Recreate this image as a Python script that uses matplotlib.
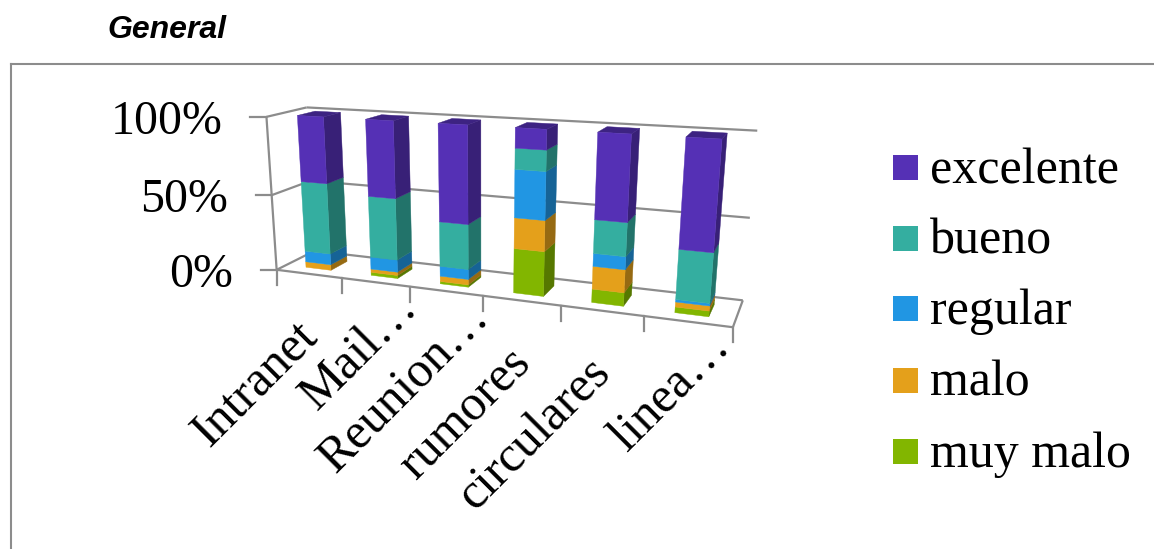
"""Stacked 3D column chart drawn on a plain axes with a fitted perspective projection."""

import numpy as np
import matplotlib
matplotlib.use("Agg")
import matplotlib.pyplot as plt
from matplotlib.patches import Polygon, Rectangle

# Chart data (percent of answers per channel)
categories = ["Intranet", "Mail…", "Reunion…", "rumores", "circulares", "linea…"]
series_names = ["muy malo", "malo", "regular", "bueno", "excelente"]
muy_malo = [0, 2.0, 1.5, 27.8, 8.2, 3.4]
malo = [3.8, 2.2, 3.5, 18.9, 13.9, 3.0]
regular = [7.3, 8.0, 6.4, 29.0, 7.8, 1.5]
bueno = [46.5, 39.6, 28.4, 12.4, 20.0, 29.4]
excelente = [42.4, 48.2, 60.2, 11.9, 50.1, 62.7]
percent_ticks = [0, 50, 100]

colors = ["#82B600", "#E4A01B", "#2196E3", "#34AEA0", "#5530B5"]
GRAY = "#8c8c8c"

# Box corners on the picture: (category, depth, fraction) -> pixel
anchors = [
    ((0, 0, 0), (278, 269)),
    ((6, 0, 0), (733, 328)),
    ((3, 0, 0), (483, 296)),
    ((0, 1, 0), (313, 252)),
    ((6, 1, 0), (743, 299)),
    ((0, 0, 1), (265, 117)),
    ((0, 1, 1), (308, 107)),
    ((6, 1, 1), (757, 131)),
    ((0, 0, 0.5), (272, 195)),
    ((6, 1, 0.5), (750, 218)),
]


def fit_projection(points):
    """Least squares fit of a 3x4 perspective matrix."""
    rows = []
    for (x, y, z), (u, v) in points:
        rows.append([x, y, z, 1, 0, 0, 0, 0, -u * x, -u * y, -u * z, -u])
        rows.append([0, 0, 0, 0, x, y, z, 1, -v * x, -v * y, -v * z, -v])
    _, _, vt = np.linalg.svd(np.array(rows, dtype=float))
    return vt[-1].reshape(3, 4)


matrix = fit_projection(anchors)


def project(x, y, z):
    u, v, w = matrix @ np.array([x, y, z, 1.0])
    return u / w, v / w


def darker(color, factor):
    rgb = np.array(matplotlib.colors.to_rgb(color))
    return tuple(rgb * factor)


def face(ax, corners, color, zorder):
    pts = [project(*c) for c in corners]
    ax.add_patch(Polygon(pts, closed=True, facecolor=color, edgecolor=color, lw=0.3, zorder=zorder))


def edge(ax, a, b):
    pa, pb = project(*a), project(*b)
    ax.plot([pa[0], pb[0]], [pa[1], pb[1]], color=GRAY, lw=1.6, solid_capstyle="butt", zorder=1)


def draw_box(ax, cat, base, top, color, with_top, zorder):
    x0, x1 = cat + 0.31, cat + 0.70
    y0, y1 = 0.25, 0.70
    face(ax, [(x1, y0, base), (x1, y1, base), (x1, y1, top), (x1, y0, top)], darker(color, 0.66), zorder)
    if with_top:
        face(ax, [(x0, y0, top), (x1, y0, top), (x1, y1, top), (x0, y1, top)], darker(color, 0.72), zorder)
    face(ax, [(x0, y0, base), (x1, y0, base), (x1, y0, top), (x0, y0, top)], color, zorder + 0.1)


fig = plt.figure(figsize=(11.54, 5.49), dpi=100)
ax = fig.add_axes([0, 0, 1, 1])
ax.set_xlim(0, 1154)
ax.set_ylim(549, 0)
ax.axis("off")

# Outer frame, only top and left are visible
ax.plot([11, 1154], [64, 64], color=GRAY, lw=1.5)
ax.plot([11, 11], [64, 549], color=GRAY, lw=1.5)

ax.text(107, 38, "General", family="Liberation Sans", weight="bold", style="italic",
        fontsize=23, ha="left", va="baseline")

# Walls and floor
n = len(categories)
for pct in percent_ticks:
    z = pct / 100
    edge(ax, (0, 0, z), (0, 1, z))
    edge(ax, (0, 1, z), (n, 1, z))
    px, py = project(0, 0, z)
    ax.plot([px - 16, px], [py, py], color=GRAY, lw=1.6, zorder=1)
    ax.text(px - 44, py + 17, f"{pct}%", family="Liberation Serif", fontsize=34.5, ha="right", va="baseline")
edge(ax, (0, 0, 0), (0, 0, 1))
edge(ax, (0, 0, 0), (n, 0, 0))
edge(ax, (n, 0, 0), (n, 1, 0))
for i in range(n + 1):
    px, py = project(i, 0, 0)
    ax.plot([px, px], [py, py + 15], color=GRAY, lw=1.6, zorder=1)

# Bars, bottom segment first
stack = np.array([muy_malo, malo, regular, bueno, excelente])
totals = stack.sum(axis=0)
for i in range(n):
    base = 0.0
    for s in range(len(series_names)):
        top = base + stack[s, i] / totals[i]
        if stack[s, i] > 0:
            draw_box(ax, i, base, top, colors[s], s == len(series_names) - 1, 3 + i + s * 0.2)
        base = top

# Category labels, rotated; shortened labels end further to the upper right
for i, label in enumerate(categories):
    px, py = project(i + 0.5, 0, 0)
    dx, dy = (19, 2) if label.endswith("…") else (-15, 39)
    ax.text(px + dx, py + dy, label, family="Liberation Serif", fontsize=36, rotation=45,
            rotation_mode="anchor", ha="right", va="top")

# Legend, top entry is the last series
legend_baselines = [466, 395, 323, 253, 182]
for name, color, baseline in zip(series_names, colors, legend_baselines):
    ax.add_patch(Rectangle((893, baseline - 27), 25, 25, facecolor=color, edgecolor="none"))
    ax.text(930, baseline + 1, name, family="Liberation Serif", fontsize=36, ha="left", va="baseline")

fig.savefig("out.png", dpi=100)
